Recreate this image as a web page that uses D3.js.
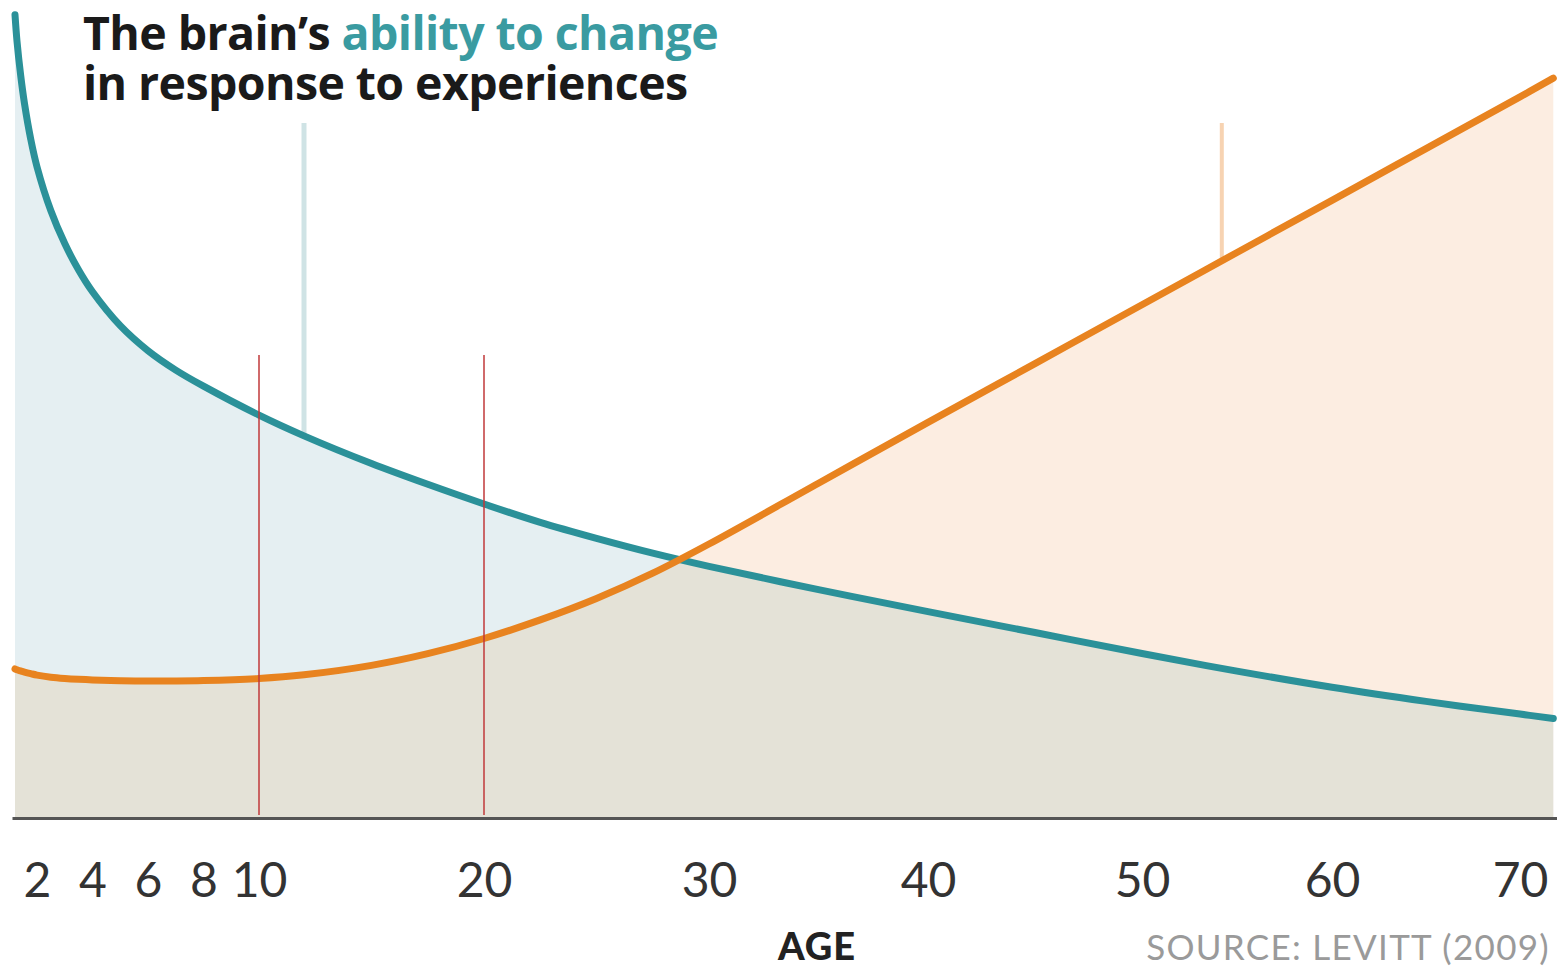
<!DOCTYPE html>
<html>
<head>
<meta charset="utf-8">
<script src="https://cdn.jsdelivr.net/npm/d3@7"></script>
<style>
    body { margin: 0; background: #fff; }
    svg { display: block; }
</style>
</head>
<body>
<svg id="chart"></svg>
<script>
// ages sampled along both curves
const ages = [1.12, 1.2, 1.35, 1.5, 1.75, 2, 2.5, 3, 3.5, 4, 5, 6, 7, 8, 10, 12, 15, 17.5, 20, 22.5, 25, 27.5, 30, 35, 40, 45, 50, 55, 60, 65, 70, 71.8];
// ability to change (teal)
const plasticity = [100.4, 97.1, 92.75, 89.3, 84.85, 81.4, 75.9, 71.8, 68.5, 65.78, 61.54, 58.41, 55.99, 53.98, 50.36, 47.77, 44.31, 41.71, 39.25, 36.95, 34.95, 33.1, 31.45, 28.55, 25.8, 23.18, 20.56, 18.36, 16.34, 14.58, 12.99, 12.44];
// effort needed (orange)
const effort = [18.63, 18.53, 18.38, 18.24, 18.04, 17.86, 17.6, 17.44, 17.33, 17.25, 17.16, 17.13, 17.13, 17.18, 17.44, 17.9, 19.08, 20.54, 22.44, 24.76, 27.44, 30.6, 34.25, 41.85, 49.45, 56.8, 64.16, 70.69, 77.21, 83.68, 90.14, 92.48];

const tickAges = [2, 4, 6, 8, 10, 20, 30, 40, 50, 60, 70];
const markerAges = [10, 20];
const tealGuideAge = 12;
const orangeGuideAge = 54.2;

const width = 1557, height = 967;
const svg = d3.select("#chart")
    .attr("width", width)
    .attr("height", height);

// the printed axis is stretched for early childhood, so the scale is piecewise
const x = d3.scaleLinear()
    .domain([1, 2, 10, 20, 30, 40, 50, 60, 70, 72])
    .range([12, 37, 259, 484, 709, 928, 1142, 1332, 1520, 1557]);
const y = d3.scaleLinear().domain([0, 100]).range([818, 18]);

const teal = ages.map((a, i) => ({ age: a, v: plasticity[i] }));
const orange = ages.map((a, i) => ({ age: a, v: effort[i] }));

const area = d3.area()
    .x(d => x(d.age))
    .y0(y(0))
    .y1(d => y(d.v))
    .curve(d3.curveCatmullRom);
const line = d3.line()
    .x(d => x(d.age))
    .y(d => y(d.v))
    .curve(d3.curveCatmullRom);

svg.append("defs").append("clipPath")
    .attr("id", "tealClip")
    .append("path")
    .attr("d", area(teal));

// fills
svg.append("path").attr("d", area(teal)).attr("fill", "#e5eff2");
svg.append("path").attr("d", area(orange)).attr("fill", "#fcede1");
svg.append("path").attr("d", area(orange)).attr("fill", "#e4e2d7")
    .attr("clip-path", "url(#tealClip)");

// helper for reading a curve value at a given age
const at = (arr, age) => d3.scaleLinear().domain(ages).range(arr)(age);

// light guide lines
svg.append("line")
    .attr("x1", x(tealGuideAge)).attr("x2", x(tealGuideAge))
    .attr("y1", 123).attr("y2", y(at(plasticity, tealGuideAge)))
    .attr("stroke", "#cfe3e5").attr("stroke-width", 5);
svg.append("line")
    .attr("x1", x(orangeGuideAge)).attr("x2", x(orangeGuideAge))
    .attr("y1", 123).attr("y2", y(at(effort, orangeGuideAge)))
    .attr("stroke", "#f7d3b2").attr("stroke-width", 4);

// curves
svg.append("path").attr("d", line(teal))
    .attr("fill", "none").attr("stroke", "#2b9199")
    .attr("stroke-width", 7).attr("stroke-linecap", "round");
svg.append("path").attr("d", line(orange))
    .attr("fill", "none").attr("stroke", "#e8831f")
    .attr("stroke-width", 7).attr("stroke-linecap", "round");

// red markers
svg.selectAll(".marker")
    .data(markerAges)
    .enter()
    .append("line")
    .attr("class", "marker")
    .attr("x1", d => x(d)).attr("x2", d => x(d))
    .attr("y1", 355).attr("y2", 815)
    .attr("stroke", "#c0393a").attr("stroke-width", 1.5);

// x axis
const axis = svg.append("g")
    .attr("transform", "translate(0," + y(0) + ")")
    .call(d3.axisBottom(x).tickValues(tickAges).tickSize(0).tickSizeOuter(0));
axis.select(".domain").attr("stroke", "#555").attr("stroke-width", 3);
axis.selectAll("text")
    .attr("y", 79).attr("dy", 0)
    .attr("fill", "#333")
    .style("font-family", "Lato")
    .style("font-size", "48px")
    .style("font-weight", 400);

svg.append("text")
    .attr("x", 817).attr("y", 960)
    .attr("text-anchor", "middle")
    .attr("fill", "#222")
    .style("font-family", "Lato").style("font-weight", 900)
    .style("font-size", "38px").style("letter-spacing", "1px")
    .text("AGE");

svg.append("text")
    .attr("x", 1550).attr("y", 960)
    .attr("text-anchor", "end")
    .attr("fill", "#9a9a9a")
    .style("font-family", "Lato")
    .style("font-size", "35px").style("letter-spacing", "1.3px")
    .text("SOURCE: LEVITT (2009)");

// title, two lines
const line1 = svg.append("text")
    .attr("x", 83).attr("y", 50)
    .style("font-family", "Open Sans").style("font-weight", 700)
    .style("font-size", "46.5px").style("letter-spacing", "-0.6px")
    .attr("fill", "#1a1a1a");
line1.append("tspan").text("The brain\u2019s ");
line1.append("tspan").attr("fill", "#3a9ba1").text("ability to change");
svg.append("text")
    .attr("x", 83).attr("y", 100)
    .style("font-family", "Open Sans").style("font-weight", 700)
    .style("font-size", "46.5px").style("letter-spacing", "-0.6px")
    .attr("fill", "#1a1a1a")
    .text("in response to experiences");
</script>
</body>
</html>
